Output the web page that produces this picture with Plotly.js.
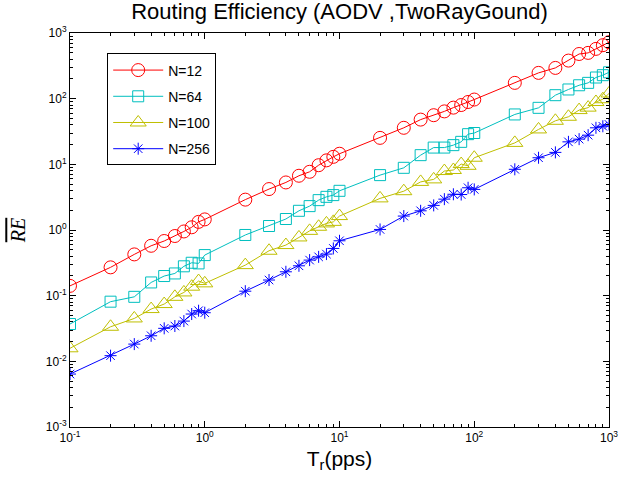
<!DOCTYPE html>
<html>
<head>
<meta charset="utf-8">
<script src="https://cdn.plot.ly/plotly-3.0.1.min.js"></script>
<style>html,body{margin:0;padding:0;background:#fff;}</style>
</head>
<body>
<div id="chart" style="width:619px;height:484px;"></div>
<script>
const xRate = [0.1,0.2,0.3,0.4,0.5,0.6,0.7,0.8,0.9,1,2,3,4,5,6,7,8,9,10,20,30,40,50,60,70,80,90,100,200,300,400,500,600,700,800,900,1000];
const reN12  = [0.141,0.27,0.425,0.575,0.68,0.81,0.95,1.1,1.33,1.45,2.9,4.2,5.3,6.7,7.7,9.7,11.5,13,14.5,25.3,36,48,56,64,73,80,89,97,174,247,294,380,479,498,573,652,724];
const reN64  = [0.037,0.081,0.096,0.159,0.199,0.218,0.28,0.317,0.31,0.415,0.84,1.15,1.47,1.96,2.31,2.85,3.2,3.4,3.95,6.85,8.85,13.8,18,18,19.6,22,28.8,30,57.5,72.5,113,138,160,174,210,228,252];
const reN100 = [0.0158,0.0336,0.045,0.0625,0.0745,0.096,0.112,0.137,0.167,0.154,0.292,0.483,0.59,0.77,0.97,1.12,1.26,1.33,1.63,3.03,3.9,5.4,5.9,7.9,8.2,10.1,9.5,12.6,21.2,34,46,53,67,73,89,98,120];
const reN256 = [0.0064,0.0122,0.0183,0.0245,0.0318,0.0345,0.041,0.0525,0.059,0.055,0.117,0.173,0.231,0.285,0.348,0.39,0.43,0.524,0.685,1.02,1.63,1.96,2.37,2.95,3.5,3.47,4.4,4.15,8.4,12.6,15.2,22,24.2,27.8,36,38,40.5];
const seriesNames = ['N=12','N=64','N=100','N=256'];
const xTickVals = [0.1,1,10,100,1000];
const xTickText = ['10<sup>-1</sup>','10<sup>0</sup>','10<sup>1</sup>','10<sup>2</sup>','10<sup>3</sup>'];
const yTickVals = [0.001,0.01,0.1,1,10,100,1000];
const yTickText = ['10<sup>-3</sup>','10<sup>-2</sup>','10<sup>-1</sup>','10<sup>0</sup>','10<sup>1</sup>','10<sup>2</sup>','10<sup>3</sup>'];

function minorVals(lo, hi){
  const v=[];
  for(let e=lo;e<hi;e++){ for(let m=2;m<=9;m++){ v.push(m*Math.pow(10,e)); } }
  return v;
}

const styles = [
  {color:'#ff0000', symbol:'circle-open', size:13},
  {color:'#00bfbf', symbol:'square-open', size:11},
  {color:'#bfbf00', symbol:'triangle-up-open', size:14},
  {color:'#0000ff', symbol:'asterisk-open', size:10}
];
const ys = [reN12, reN64, reN100, reN256];
const traces = ys.map((y,i)=>({
  x:xRate, y:y, type:'scatter', mode:'lines+markers', name:seriesNames[i],
  legendgroup:'g'+i,
  line:{color:styles[i].color, width:1},
  marker:{symbol:styles[i].symbol, size:styles[i].size, color:styles[i].color, line:{color:styles[i].color, width:1}}
}));

const font = 'Liberation Sans, Arial, Helvetica, sans-serif';
const axisCommon = {
  type:'log', showgrid:false, zeroline:false, showline:true, linecolor:'#000', linewidth:1,
  mirror:'ticks', ticks:'inside', ticklen:6, tickwidth:1, tickcolor:'#000',
  tickmode:'array', tickfont:{family:font, size:12, color:'#000'}
};
const layout = {
  width:619, height:484,
  margin:{l:70, r:10, t:33, b:57},
  paper_bgcolor:'#fff', plot_bgcolor:'#fff',
  font:{family:font, color:'#000'},
  title:{text:'Routing Efficiency (AODV ,TwoRayGound)', font:{family:font, size:22, color:'#000'}, x:0.5, xref:'paper', y:0.976, yref:'container', yanchor:'middle'},
  xaxis:Object.assign({}, axisCommon, {
    range:[-1,3], tickvals:xTickVals, ticktext:xTickText,
    minor:{tickmode:'array', tickvals:minorVals(-1,3), ticks:'inside', ticklen:3, tickcolor:'#000', tickwidth:1},
    title:{text:'T<sub>r</sub>(pps)', font:{family:font, size:21, color:'#000'}, standoff:6}
  }),
  yaxis:Object.assign({}, axisCommon, {
    range:[-3,3], tickvals:yTickVals, ticktext:yTickText,
    minor:{tickmode:'array', tickvals:minorVals(-3,3), ticks:'inside', ticklen:3, tickcolor:'#000', tickwidth:1},
    title:{text:'<span style="text-decoration:overline"><i>RE</i></span>', font:{family:'Liberation Serif, Times New Roman, serif', size:20, color:'#000'}, standoff:14}
  }),
  showlegend:true,
  legend:{x:0.069, y:0.948, xanchor:'left', yanchor:'top', bgcolor:'#fff', bordercolor:'#000', borderwidth:1,
    font:{family:font, size:14, color:'#000'}, tracegroupgap:5, itemwidth:50}
};
Plotly.newPlot('chart', traces, layout, {staticPlot:true, displayModeBar:false});
</script>
</body>
</html>
